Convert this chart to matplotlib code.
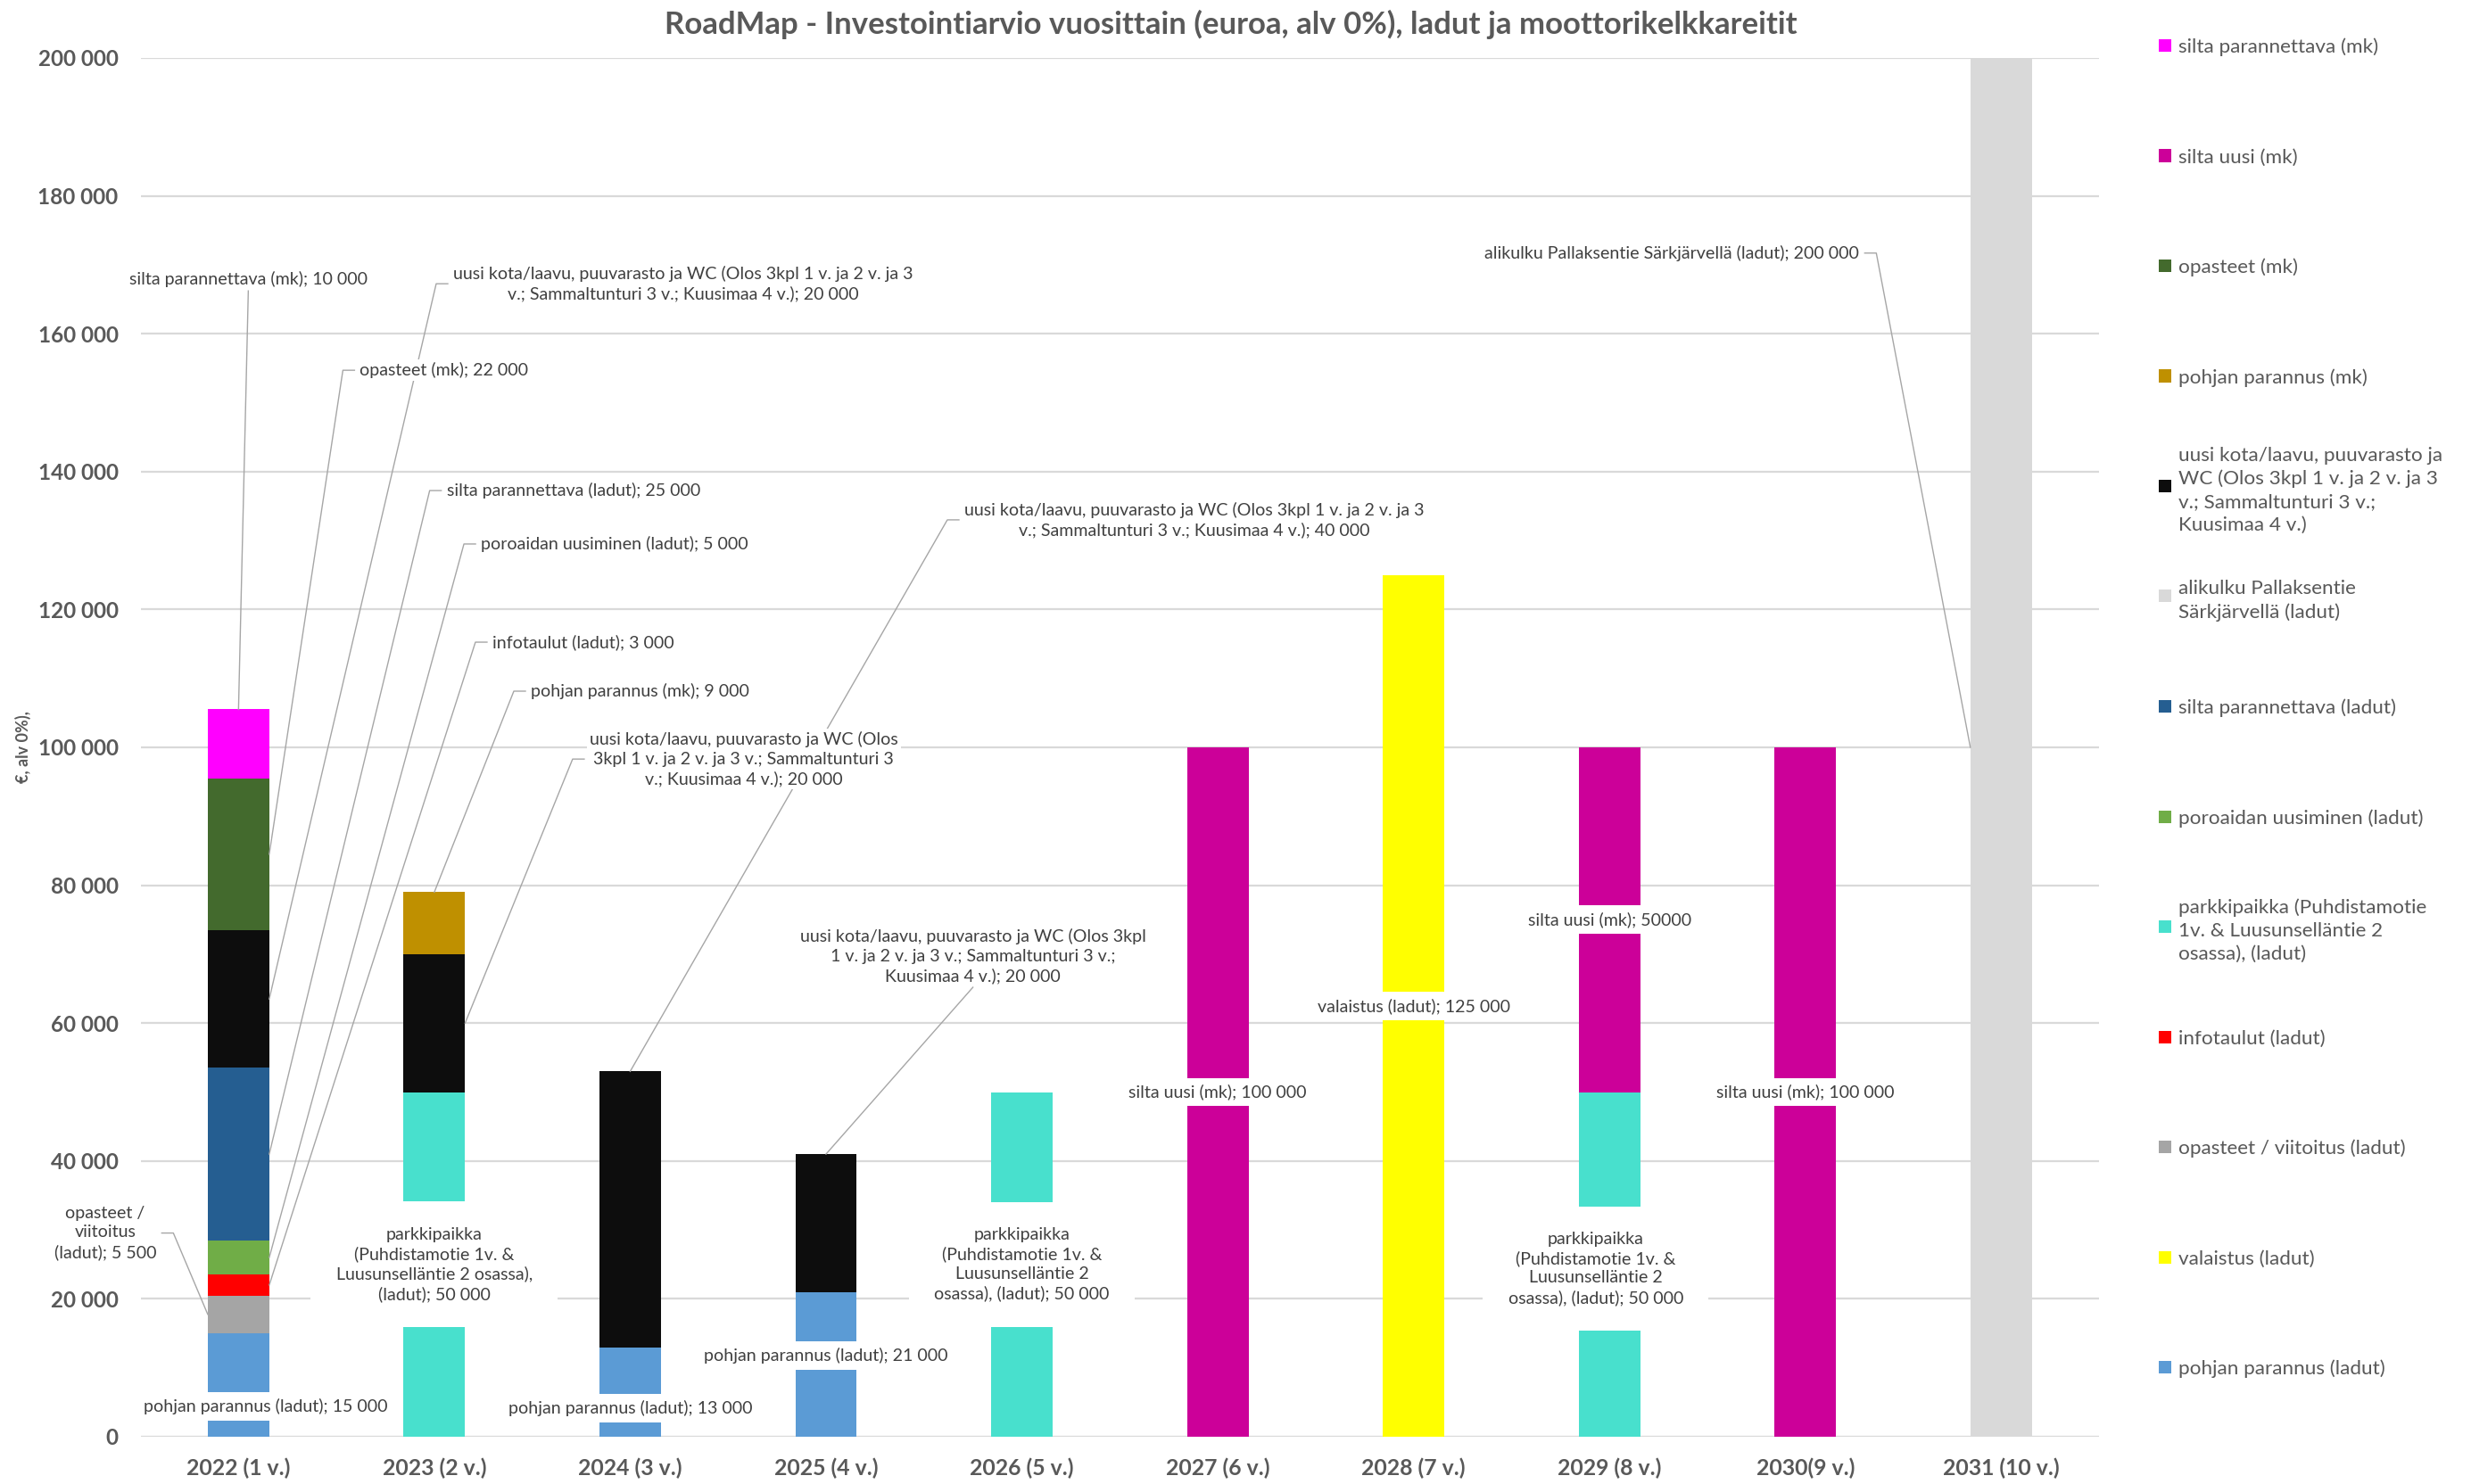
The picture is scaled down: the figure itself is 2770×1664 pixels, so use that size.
import textwrap
import numpy as np
import matplotlib
matplotlib.use("Agg")
import matplotlib.pyplot as plt
from matplotlib.patches import Rectangle

plt.rcParams['font.family'] = ['Lato', 'DejaVu Sans']

years = ['2022 (1 v.)', '2023 (2 v.)', '2024 (3 v.)', '2025 (4 v.)', '2026 (5 v.)',
         '2027 (6 v.)', '2028 (7 v.)', '2029 (8 v.)', '2030(9 v.)', '2031 (10 v.)']

# stacked from the bottom up
pohjan_ladut    = [15000, 0, 13000, 21000, 0, 0, 0, 0, 0, 0]
valaistus       = [0, 0, 0, 0, 0, 0, 125000, 0, 0, 0]
opasteet_ladut  = [5500, 0, 0, 0, 0, 0, 0, 0, 0, 0]
infotaulut      = [3000, 0, 0, 0, 0, 0, 0, 0, 0, 0]
parkkipaikka    = [0, 50000, 0, 0, 50000, 0, 0, 50000, 0, 0]
poroaita        = [5000, 0, 0, 0, 0, 0, 0, 0, 0, 0]
silta_par_ladut = [25000, 0, 0, 0, 0, 0, 0, 0, 0, 0]
alikulku        = [0, 0, 0, 0, 0, 0, 0, 0, 0, 200000]
kota            = [20000, 20000, 40000, 20000, 0, 0, 0, 0, 0, 0]
pohjan_mk       = [0, 9000, 0, 0, 0, 0, 0, 0, 0, 0]
opasteet_mk     = [22000, 0, 0, 0, 0, 0, 0, 0, 0, 0]
silta_uusi_mk   = [0, 0, 0, 0, 0, 100000, 0, 50000, 100000, 0]
silta_par_mk    = [10000, 0, 0, 0, 0, 0, 0, 0, 0, 0]

series_names = [
    'pohjan parannus (ladut)',
    'valaistus (ladut)',
    'opasteet / viitoitus (ladut)',
    'infotaulut (ladut)',
    'parkkipaikka (Puhdistamotie 1v. & Luusunselläntie 2 osassa), (ladut)',
    'poroaidan uusiminen (ladut)',
    'silta parannettava (ladut)',
    'alikulku Pallaksentie Särkjärvellä (ladut)',
    'uusi kota/laavu, puuvarasto ja WC (Olos 3kpl 1 v. ja 2 v. ja 3 v.; Sammaltunturi 3 v.; Kuusimaa 4 v.)',
    'pohjan parannus (mk)',
    'opasteet (mk)',
    'silta uusi (mk)',
    'silta parannettava (mk)',
]
series_values = [pohjan_ladut, valaistus, opasteet_ladut, infotaulut, parkkipaikka,
                 poroaita, silta_par_ladut, alikulku, kota, pohjan_mk, opasteet_mk,
                 silta_uusi_mk, silta_par_mk]
series_colors = ['#5B9BD5', '#FFFF00', '#A5A5A5', '#FF0000', '#48E0CD', '#70AD47',
                 '#255E91', '#D9D9D9', '#0D0D0D', '#BF9000', '#436A2D', '#CC0099',
                 '#FF00FF']

# legend entries as wrapped in the side panel (top to bottom)
legend_text = {
    series_names[8]: 'uusi kota/laavu, puuvarasto ja\nWC (Olos 3kpl 1 v. ja 2 v. ja 3\nv.; Sammaltunturi 3 v.;\nKuusimaa 4 v.)',
    series_names[7]: 'alikulku Pallaksentie\nSärkjärvellä (ladut)',
    series_names[4]: 'parkkipaikka (Puhdistamotie\n1v. & Luusunselläntie 2\nosassa), (ladut)',
}

# data labels: series index, year index, text position (None = segment centre),
# wrap width, leader (label side, bar anchor), thousands separator
labels = [
    (12, 0, (0.05, 167900), None, ('bottom', 'top'), True),
    (10, 0, (1.05, 154700), None, ('left', 'right'), True),
    (8, 0, (2.27, 167250), 62, ('left', 'right'), True),
    (6, 0, (1.71, 137250), None, ('left', 'right'), True),
    (5, 0, (1.92, 129500), None, ('left', 'right'), True),
    (3, 0, (1.76, 115260), None, ('left', 'right'), True),
    (2, 0, (-0.68, 29550), 14, ('right', 'left'), True),
    (9, 1, (2.05, 108150), None, ('left', 'top'), True),
    (8, 1, (2.58, 98300), 42, ('left', 'right'), True),
    (8, 2, (4.88, 133000), 62, ('left', 'top'), True),
    (8, 3, (3.75, 69700), 44, ('bottom', 'top'), True),
    (7, 9, (7.32, 171700), None, ('right', 'left'), True),
    (0, 0, (0.14, 4400), None, None, True),
    (0, 2, (2.0, 4140), None, None, True),
    (0, 3, (3.0, 11800), None, None, True),
    (4, 1, None, 26, None, True),
    (4, 4, None, 24, None, True),
    (4, 7, (6.93, 24400), 24, None, True),
    (11, 5, None, None, None, True),
    (1, 6, None, None, None, True),
    (11, 7, None, None, None, False),
    (11, 8, None, None, None, True),
]

TXT = '#595959'
W, H = 2770, 1664
bar_w = 0.314

fig = plt.figure(figsize=(W / 100, H / 100), dpi=100)
ax = fig.add_axes([157.6 / W, 53 / H, 2195.4 / W, 1546 / H])

x = np.arange(len(years))
bottom = np.zeros(len(years))
stack = []
for vals, color in zip(series_values, series_colors):
    vals = np.array(vals, dtype=float)
    ax.bar(x, vals, width=bar_w, bottom=bottom, color=color, linewidth=0, zorder=2)
    stack.append((bottom.copy(), vals))
    bottom += vals

ax.set_xlim(-0.5, len(years) - 0.5)
ax.set_ylim(0, 200000)
ax.set_yticks(np.arange(0, 200001, 20000))
ax.set_yticklabels([f'{v:,}'.replace(',', '\u00a0') for v in range(0, 200001, 20000)])
ax.set_xticks(x)
ax.set_xticklabels(years)
ax.tick_params(axis='y', length=0, pad=18, labelsize=17.5, labelcolor=TXT)
ax.tick_params(axis='x', length=0, pad=17, labelsize=17.8, labelcolor=TXT)
for lab in ax.get_xticklabels() + ax.get_yticklabels():
    lab.set_fontweight('bold')
ax.yaxis.grid(True, color='#D9D9D9', lw=1.6, zorder=0)
ax.set_axisbelow(True)
for s in ax.spines.values():
    s.set_visible(False)


def fmt(v, group):
    s = f'{int(v):,}' if group else f'{int(v)}'
    return s.replace(',', '\u00a0')


texts = []
for si, yi, pos, wrap, leader, group in labels:
    b, v = stack[si][0][yi], stack[si][1][yi]
    txt = f'{series_names[si]}; {fmt(v, group)}'
    if wrap:
        txt = textwrap.fill(txt, wrap, break_on_hyphens=False)
    if pos is None:
        pos = (yi, b + v / 2)
    if leader is None:
        pad = 1.45 if wrap else 0.35
    else:
        pad = 0.15
    t = ax.text(pos[0], pos[1], txt, ha='center', va='center', multialignment='center',
                fontsize=14.1, color='#404040', zorder=5, linespacing=1.3,
                bbox=dict(boxstyle=f'square,pad={pad}', fc='white', ec='none'))
    texts.append((t, si, yi, leader))

fig.canvas.draw()
renderer = fig.canvas.get_renderer()
inv = ax.transData.inverted()
for t, si, yi, leader in texts:
    if leader is None:
        continue
    side, anchor = leader
    b, v = stack[si][0][yi], stack[si][1][yi]
    if anchor == 'top':
        target = (yi, b + v)
    elif anchor == 'right':
        target = (yi + bar_w / 2, b + v / 2)
    else:
        target = (yi - bar_w / 2, b + v / 2)
    bb = t.get_window_extent(renderer)
    cx, cy = (bb.x0 + bb.x1) / 2, (bb.y0 + bb.y1) / 2
    if side == 'left':
        pts = [(bb.x0 - 6, cy), (bb.x0 - 19, cy)]
    elif side == 'right':
        pts = [(bb.x1 + 6, cy), (bb.x1 + 19, cy)]
    else:
        pts = [(cx, bb.y0 - 4)]
    pts = [tuple(inv.transform(p)) for p in pts] + [target]
    ax.plot([p[0] for p in pts], [p[1] for p in pts], color='#A6A6A6', lw=1.0,
            zorder=3, clip_on=False)

fig.text(1380 / W, 1 - 27 / H,
         'RoadMap - Investointiarvio vuosittain (euroa, alv 0%), ladut ja moottorikelkkareitit',
         ha='center', va='center', fontsize=25, fontweight='bold', color=TXT)
fig.text(26 / W, 1 - 838 / H, '€, alv 0%),', rotation=90, ha='center', va='center',
         fontsize=13, fontweight='bold', color=TXT)

# legend panel on the right, newest series on top
order = list(range(len(series_names)))[::-1]
for k, si in enumerate(order):
    yc = 51 + k * 123.5
    fig.patches.append(Rectangle((2420 / W, 1 - (yc + 7) / H), 14 / W, 14 / H,
                                 transform=fig.transFigure, fc=series_colors[si],
                                 ec='none'))
    fig.text(2442 / W, 1 - yc / H, legend_text.get(series_names[si], series_names[si]),
             ha='left', va='center_baseline', fontsize=16.2, color=TXT, linespacing=1.35)

fig.savefig('out.png', dpi=100)
